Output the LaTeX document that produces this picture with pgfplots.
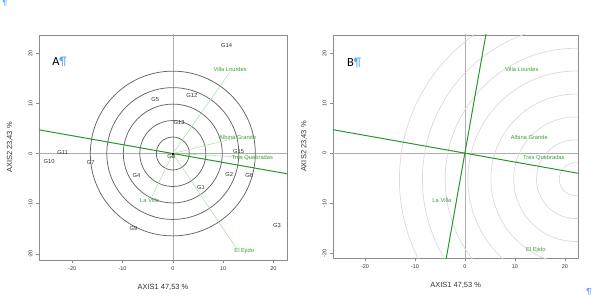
\documentclass[border=0pt]{standalone}
\usepackage{pgfplots}
\pgfplotsset{compat=1.18}
\usepackage{fontspec}
\setmainfont{Liberation Sans}
\newfontfamily\calib{Carlito}
\definecolor{linegreen}{RGB}{40,150,40}
\definecolor{labgreen}{RGB}{60,160,60}
\definecolor{vecgreen}{RGB}{165,222,165}
\definecolor{circA}{RGB}{100,100,100}
\definecolor{circB}{RGB}{218,218,218}
\definecolor{axisgray}{RGB}{140,140,140}
\definecolor{zerogray}{RGB}{175,175,175}
\definecolor{pilblue}{RGB}{90,170,240}
\definecolor{txtgray}{RGB}{50,50,50}

\pgfplotsset{
  ggebase/.style={
    scale only axis, anchor=south west,
    axis line style={draw=axisgray, line width=0.7pt},
    tick style={draw=axisgray, line width=0.5pt},
    tick align=outside, major tick length=3bp,
    xtick={-20,-10,0,10,20}, ytick={-20,-10,0,10,20},
    xtick pos=lower, ytick pos=left,
    /pgf/number format/assume math mode=true,
    tick label style={font=\fontsize{5.5}{6}\selectfont, text=txtgray},
    yticklabel style={rotate=90, anchor=south},
    every axis x label/.style={at={(axis description cs:0.5,-0.12)}, anchor=center, font=\fontsize{7.5}{8}\selectfont, text=txtgray},
    every axis y label/.style={at={(axis description cs:-0.117,0.5)}, anchor=center, rotate=90, font=\fontsize{7.5}{8}\selectfont, text=txtgray},
    xlabel={AXIS1 47,53 \%}, ylabel={AXIS2 23,43 \%},
  },
  labs/.style={draw=none, mark=none, nodes near coords, point meta=explicit symbolic,
    nodes near coords style={anchor=center, inner sep=0pt, font=\fontsize{5.8}{6}\selectfont, text=#1}},
}

\pgfplotstableread{
x y lab
10.7 21.5 G14
3.8 11.5 G12
-3.5 10.7 G5
1.25 6.2 G13
13.1 0.4 G15
-0.3 -0.6 G8
-21.9 0.2 G11
-24.6 -1.6 G10
-16.3 -1.8 G7
-7.2 -4.4 G4
11.2 -4.2 G2
15.2 -4.4 G6
5.6 -6.7 G1
-7.8 -14.9 G9
20.7 -14.4 G3
}\gen

\pgfplotstableread{
x y lab
11.4 16.8 {Villa Lourdes}
12.9 3.2 {Albina Grande}
15.8 -0.9 {Tres Quebradas}
-4.6 -9.4 {La Villa}
14.2 -19.4 {El Ejido}
}\env

\begin{document}
\begin{tikzpicture}
\useasboundingbox (0,0) rectangle (604bp,302bp);
\node[font=\calib\fontsize{8}{8}\selectfont, text=pilblue] at (5bp,299bp) {¶};
\node[font=\calib\fontsize{9}{9}\selectfont, text=pilblue] at (589bp,10bp) {¶};

% ---------- Panel A ----------
\begin{axis}[ggebase, at={(39bp,42bp)}, width=248bp, height=225bp,
  xmin=-26.6, xmax=22.7, ymin=-21.2, ymax=23.6]
\addplot[zerogray, line width=0.6pt] coordinates {(-30,0) (30,0)};
\addplot[zerogray, line width=0.6pt] coordinates {(0,-30) (0,30)};
\pgfplotsinvokeforeach{3.28,6.56,9.84,13.12,16.4}{
  \draw[circA, line width=0.75pt] (axis cs:0,0) circle [radius=#1];
}
\addplot[vecgreen, line width=0.5pt] coordinates {(0,0) (11.4,16.3)};
\addplot[vecgreen, line width=0.5pt] coordinates {(0,0) (12.9,3.2)};
\addplot[vecgreen, line width=0.5pt] coordinates {(0,0) (15.5,-0.8)};
\addplot[vecgreen, line width=0.5pt] coordinates {(0,0) (-4.4,-9.1)};
\addplot[vecgreen, line width=0.5pt] coordinates {(0,0) (12.6,-18.8)};
\addplot[linegreen, line width=1pt] coordinates {(-30,5.325) (25,-4.4375)};
\addplot[only marks, mark=square*, mark size=0.8pt, black] coordinates {(0,0)};
\addplot[labs=txtgray] table[meta=lab] {\gen};
\addplot[labs=labgreen] table[meta=lab] {\env};
\node[anchor=west, inner sep=0pt, font=\calib\fontsize{12.5}{12.5}\selectfont] at (axis cs:-24.0,18.3) {A\textcolor{pilblue}{¶}};
\end{axis}

% ---------- Panel B ----------
\begin{axis}[ggebase, at={(333bp,43.7bp)}, width=245.3bp, height=223.3bp,
  xmin=-26.4, xmax=22.7, ymin=-21.0, ymax=23.6]
\addplot[zerogray, line width=0.6pt] coordinates {(-30,0) (30,0)};
\addplot[zerogray, line width=0.6pt] coordinates {(0,-30) (0,30)};
\pgfplotsinvokeforeach{3.3,7.87,12.44,17.0,21.6,26.15,30.7,35.3}{
  \draw[circB, line width=0.7pt] (axis cs:22.2,-5.2) circle [radius=#1];
}
\addplot[linegreen, line width=1pt] coordinates {(-30,5.325) (25,-4.4375)};
\addplot[linegreen, line width=1pt] coordinates {(4.4,24.8) (-4.0,-22.5)};
\addplot[labs=labgreen] table[meta=lab] {\env};
\node[anchor=west, inner sep=0pt, font=\calib\fontsize{12.5}{12.5}\selectfont] at (axis cs:-23.6,18.1) {B\textcolor{pilblue}{¶}};
\end{axis}
\end{tikzpicture}
\end{document}
